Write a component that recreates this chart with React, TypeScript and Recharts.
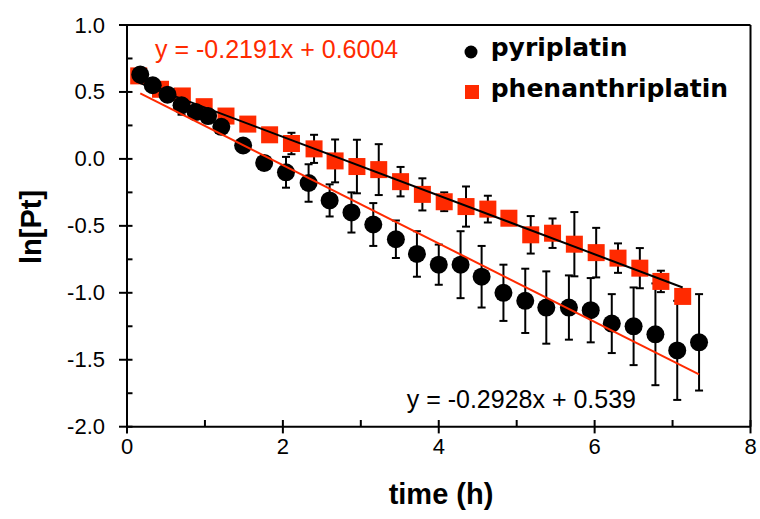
import React from 'react';
import { ScatterChart, Scatter, XAxis, YAxis, ErrorBar, ReferenceLine, Label, Legend } from 'recharts';

// ---- data ----
const pyriTime = [0.17, 0.33, 0.52, 0.70, 0.88, 1.04, 1.21, 1.49, 1.76, 2.04, 2.33, 2.60, 2.88, 3.16, 3.45, 3.72, 4.00, 4.28, 4.55, 4.83, 5.11, 5.38, 5.67, 5.95, 6.22, 6.50, 6.78, 7.06, 7.34];
const pyriLn = [0.63, 0.55, 0.48, 0.40, 0.35, 0.32, 0.24, 0.10, -0.03, -0.10, -0.18, -0.31, -0.40, -0.49, -0.60, -0.71, -0.79, -0.79, -0.88, -1.00, -1.06, -1.11, -1.11, -1.13, -1.23, -1.25, -1.31, -1.43, -1.37];
const pyriErr = [0.02, 0.02, 0.03, 0.07, 0.03, 0.03, 0.04, 0.04, 0.05, 0.115, 0.14, 0.12, 0.15, 0.16, 0.14, 0.17, 0.15, 0.25, 0.23, 0.21, 0.24, 0.27, 0.24, 0.24, 0.22, 0.29, 0.38, 0.37, 0.36];

const phenTime = [0.15, 0.43, 0.71, 0.99, 1.27, 1.55, 1.83, 2.11, 2.40, 2.67, 2.95, 3.23, 3.51, 3.79, 4.07, 4.35, 4.63, 4.90, 5.18, 5.46, 5.74, 6.02, 6.30, 6.58, 6.85, 7.13];
const phenLn = [0.62, 0.52, 0.47, 0.39, 0.32, 0.26, 0.18, 0.115, 0.075, -0.015, -0.057, -0.08, -0.17, -0.265, -0.32, -0.356, -0.375, -0.443, -0.567, -0.555, -0.637, -0.70, -0.741, -0.816, -0.915, -1.027];
const phenErr = [0.02, 0.02, 0.02, 0.03, 0.03, 0.04, 0.05, 0.08, 0.105, 0.16, 0.2, 0.19, 0.11, 0.12, 0.07, 0.15, 0.10, 0.05, 0.14, 0.11, 0.24, 0.185, 0.11, 0.15, 0.08, 0.03];

// trendline end points (as drawn)
const pyriFitTime = [0.17, 7.34];
const pyriFitLn = [0.49, -1.61];
const phenFitTime = [0.15, 7.13];
const phenFitLn = [0.57, -0.96];

const xTicks = [0, 1, 2, 3, 4, 5, 6, 7, 8];
const xLabelTicks = [0, 2, 4, 6, 8];
const yTicks = [-2, -1.75, -1.5, -1.25, -1, -0.75, -0.5, -0.25, 0, 0.25, 0.5, 0.75, 1];
const yLabelTicks = [-2, -1.5, -1, -0.5, 0, 0.5, 1];

const seriesNames = ['pyriplatin', 'phenanthriplatin'];
const pyriEquation = 'y = -0.2928x + 0.539';
const phenEquation = 'y = -0.2191x + 0.6004';
const xTitle = 'time (h)';
const yTitle = 'ln[Pt]';

// ---- styling ----
const RED = '#ff2a00';
const FONT = "'Liberation Sans', Arial, Helvetica, sans-serif";

const pyriData = pyriTime.map((t, i) => ({ t, v: pyriLn[i], err: pyriErr[i] }));
const phenData = phenTime.map((t, i) => ({ t, v: phenLn[i], err: phenErr[i] }));
const pyriFit = pyriFitTime.map((t, i) => ({ t, v: pyriFitLn[i] }));
const phenFit = phenFitTime.map((t, i) => ({ t, v: phenFitLn[i] }));

const isLabelled = (list: number[], v: number) => list.some((l) => Math.abs(l - v) < 1e-9);

const YTick = (props: any) => {
  const { x, y, payload } = props;
  const v = payload.value as number;
  const major = isLabelled(yLabelTicks, v);
  return (
    <g>
      <line x1={major ? x - 8 : x} x2={x + 5.5} y1={y} y2={y} stroke="#000" strokeWidth={2} />
      {major && (
        <text x={x - 22} y={y} textAnchor="end" dominantBaseline="central" fontFamily={FONT} fontSize={22} fill="#000">
          {v.toFixed(1)}
        </text>
      )}
    </g>
  );
};

const XTick = (props: any) => {
  const { x, y, payload } = props;
  const v = payload.value as number;
  const major = isLabelled(xLabelTicks, v);
  return (
    <g>
      <line x1={x} x2={x} y1={y - 6.7} y2={major ? y + 6.7 : y} stroke="#000" strokeWidth={2} />
      {major && (
        <text x={x} y={y + 20} textAnchor="middle" dominantBaseline="central" fontFamily={FONT} fontSize={22} fill="#000">
          {String(v)}
        </text>
      )}
    </g>
  );
};

const Circle = (props: any) => <circle cx={props.cx} cy={props.cy} r={9} fill="#000" />;
const Square = (props: any) => <rect x={props.cx - 8.5} y={props.cy - 8.5} width={17} height={17} fill={RED} />;
const NoMark = () => <g />;

const LegendBox = () => (
  <svg width={290} height={80} style={{ display: 'block' }}>
    <circle cx={11} cy={22} r={6.5} fill="#000" />
    <text x={30.7} y={26} fontFamily="'DejaVu Sans', Verdana, sans-serif" fontWeight="bold" fontSize={25} fill="#000">
      {seriesNames[0]}
    </text>
    <rect x={5} y={55} width={14} height={14} fill={RED} />
    <text x={30.7} y={67} fontFamily="'DejaVu Sans', Verdana, sans-serif" fontWeight="bold" fontSize={25} fill="#000">
      {seriesNames[1]}
    </text>
  </svg>
);

export default function App() {
  return (
    <div style={{ position: 'absolute', left: 0, top: 0, width: 760, height: 519, background: '#fff' }}>
      <ScatterChart width={760} height={519} margin={{ top: 25, right: 9.5, bottom: 32.3, left: 27 }}>
        <XAxis
          type="number"
          dataKey="t"
          domain={[0, 8]}
          ticks={xTicks}
          interval={0}
          tickSize={0}
          tickMargin={0}
          tickLine={false}
          tick={<XTick />}
          height={60}
          axisLine={{ stroke: '#000', strokeWidth: 2 }}
        >
          <Label
            content={() => (
              <text x={441} y={504} textAnchor="middle" fontFamily={FONT} fontWeight="bold" fontSize={29} fill="#000">
                {xTitle}
              </text>
            )}
          />
        </XAxis>
        <YAxis
          type="number"
          dataKey="v"
          domain={[-2, 1]}
          ticks={yTicks}
          interval={0}
          tickSize={0}
          tickMargin={0}
          tickLine={false}
          tick={<YTick />}
          width={100}
          axisLine={{ stroke: '#000', strokeWidth: 2 }}
        >
          <Label
            content={() => (
              <text
                x={31}
                y={227}
                transform="rotate(-90 31 227)"
                textAnchor="middle"
                dominantBaseline="central"
                fontFamily={FONT}
                fontWeight="bold"
                fontSize={29}
                fill="#000"
              >
                {yTitle}
              </text>
            )}
          />
          <Label
            content={() => (
              <text x={155} y={58.3} fontFamily={FONT} fontSize={25} fill={RED}>
                {phenEquation}
              </text>
            )}
          />
          <Label
            content={() => (
              <text x={406.7} y={408.3} fontFamily={FONT} fontSize={25} fill="#000">
                {pyriEquation}
              </text>
            )}
          />
        </YAxis>
        <ReferenceLine y={1} stroke="#000" strokeWidth={2} />
        <ReferenceLine x={8} stroke="#000" strokeWidth={2} />
        <Legend
          layout="horizontal"
          verticalAlign="middle"
          align="center"
          wrapperStyle={{ top: 30, left: 460, width: 290, height: 80 }}
          content={() => <LegendBox />}
        />
        <Scatter name={seriesNames[1]} data={phenData} fill={RED} shape={<Square />} isAnimationActive={false}>
          <ErrorBar dataKey="err" direction="y" width={4} stroke="#000" strokeWidth={2} />
        </Scatter>
        <Scatter name={seriesNames[0]} data={pyriData} fill="#000" shape={<Circle />} isAnimationActive={false}>
          <ErrorBar dataKey="err" direction="y" width={4} stroke="#000" strokeWidth={2} />
        </Scatter>
        <Scatter
          name="pyriplatin fit"
          data={pyriFit}
          line={{ stroke: RED, strokeWidth: 2 }}
          shape={<NoMark />}
          legendType="none"
          isAnimationActive={false}
        />
        <Scatter
          name="phenanthriplatin fit"
          data={phenFit}
          line={{ stroke: '#000', strokeWidth: 2 }}
          shape={<NoMark />}
          legendType="none"
          isAnimationActive={false}
        />
      </ScatterChart>
    </div>
  );
}
